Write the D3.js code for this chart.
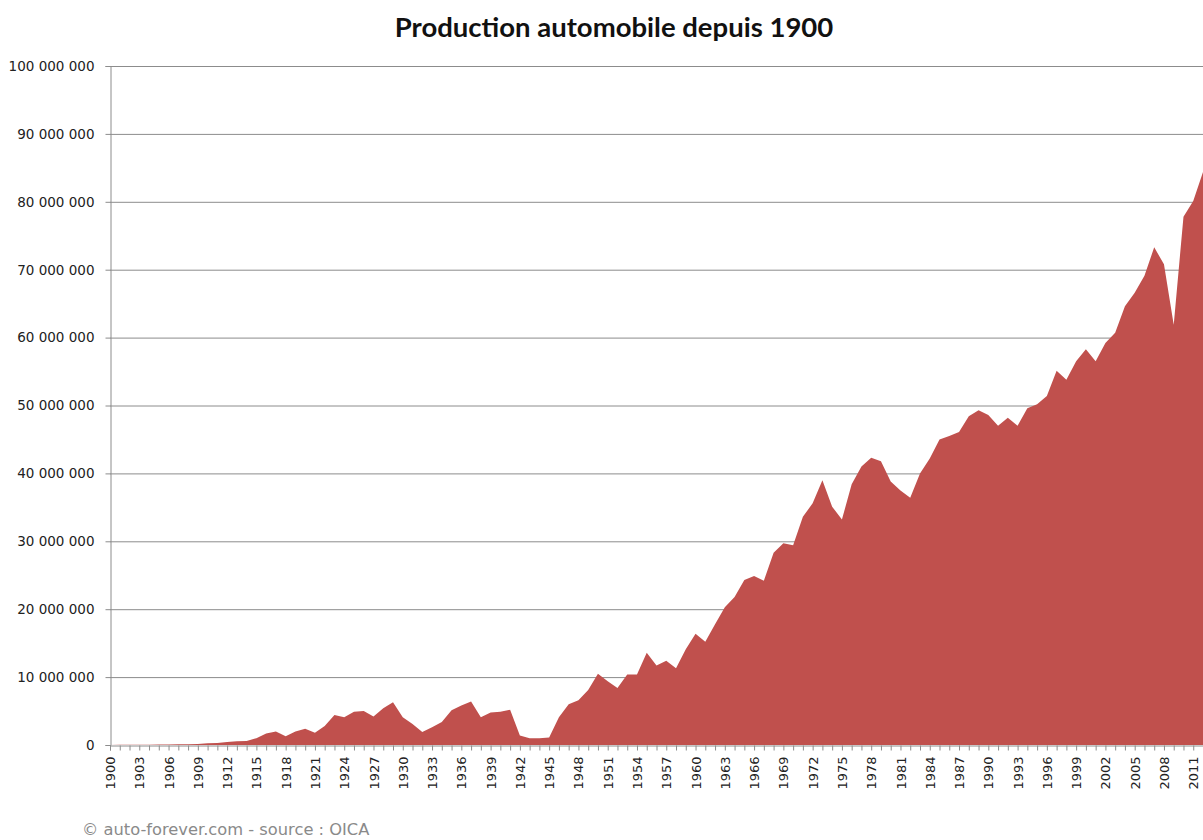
<!DOCTYPE html>
<html>
<head>
<meta charset="utf-8">
<script src="https://cdn.jsdelivr.net/npm/d3@7"></script>
<style>
  body { margin: 0; background: #fff; }
  svg { display: block; }
</style>
</head>
<body>
<script>
// production mondiale (millions de véhicules), 1900 -> 2012
const years = d3.range(1900, 2013);
const production = [
  0.01, 0.02, 0.03, 0.04, 0.05, 0.06, 0.08, 0.1, 0.12, 0.15,
  0.25, 0.3, 0.45, 0.55, 0.6, 1.0, 1.7, 2.0, 1.3, 2.0,
  2.4, 1.8, 2.8, 4.4, 4.1, 4.9, 5.0, 4.2, 5.4, 6.3,
  4.1, 3.1, 1.9, 2.6, 3.4, 5.1, 5.8, 6.4, 4.1, 4.8,
  4.9, 5.2, 1.4, 1.0, 1.0, 1.1, 4.1, 6.0, 6.6, 8.1,
  10.5, 9.4, 8.4, 10.4, 10.4, 13.6, 11.7, 12.4, 11.3, 14.1,
  16.4, 15.2, 17.8, 20.3, 21.8, 24.3, 24.9, 24.2, 28.3, 29.7,
  29.4, 33.6, 35.6, 39.0, 35.1, 33.2, 38.4, 41.0, 42.3, 41.8,
  38.8, 37.5, 36.4, 40.0, 42.2, 45.0, 45.5, 46.1, 48.4, 49.3,
  48.6, 47.0, 48.2, 47.0, 49.6, 50.2, 51.4, 55.1, 53.8, 56.5,
  58.3, 56.5, 59.2, 60.7, 64.6, 66.6, 69.1, 73.3, 70.8, 61.9,
  77.8, 80.1, 84.4
];
const yTicks = d3.range(0, 100000001, 10000000);

const width = 1203, height = 840;
const plotLeft = 110, plotRight = 1203, plotTop = 66, plotBottom = 745;

const svg = d3.select("body").append("svg")
  .attr("width", width)
  .attr("height", height);

const fr = d3.formatLocale({decimal: ",", thousands: " ", grouping: [3], currency: ["", ""]});
const fmt = fr.format(",");

const x = d3.scalePoint()
  .domain(years)
  .range([plotLeft, plotRight]);

const y = d3.scaleLinear()
  .domain([0, 100000000])
  .range([plotBottom, plotTop]);

// grid
svg.append("g")
  .selectAll("line")
  .data(yTicks.slice(1))
  .enter()
  .append("line")
  .attr("x1", plotLeft)
  .attr("x2", plotRight)
  .attr("y1", d => y(d) + 0.5)
  .attr("y2", d => y(d) + 0.5)
  .attr("stroke", "#8c8c8c")
  .attr("stroke-width", 1);

// area
const area = d3.area()
  .x((d, i) => x(years[i]))
  .y0(y(0))
  .y1(d => y(d * 1000000));

svg.append("path")
  .datum(production)
  .attr("d", area)
  .attr("fill", "#C0504D");

// y axis
const yAxis = svg.append("g")
  .attr("transform", `translate(${plotLeft + 0.5},0)`)
  .call(d3.axisLeft(y).tickValues(yTicks).tickFormat(fmt).tickSize(5).tickPadding(11));
yAxis.select(".domain").attr("stroke", "#8c8c8c");
yAxis.selectAll(".tick line").attr("stroke", "#8c8c8c");
yAxis.selectAll("text")
  .attr("font-family", "DejaVu Sans")
  .attr("font-size", 13.5)
  .attr("fill", "#222");

// x axis
const xAxis = svg.append("g")
  .attr("transform", `translate(0,${plotBottom + 0.5})`)
  .call(d3.axisBottom(x).tickSize(5).tickFormat((d, i) => i % 3 === 0 ? d : ""));
xAxis.select(".domain").attr("stroke", "#8c8c8c");
xAxis.selectAll(".tick line").attr("stroke", "#8c8c8c");
xAxis.selectAll("text")
  .attr("font-family", "DejaVu Sans")
  .attr("font-size", 13)
  .attr("fill", "#222")
  .attr("text-anchor", "end")
  .attr("transform", "rotate(-90)")
  .attr("x", -11)
  .attr("y", 0)
  .attr("dy", "0.35em");

// title
svg.append("text")
  .attr("x", 614)
  .attr("y", 37)
  .attr("text-anchor", "middle")
  .attr("font-family", "Lato")
  .attr("font-weight", "bold")
  .attr("font-size", 27.5)
  .attr("fill", "#111")
  .text("Production automobile depuis 1900");

// source
svg.append("text")
  .attr("x", 82)
  .attr("y", 835)
  .attr("font-family", "DejaVu Sans")
  .attr("font-size", 16.3)
  .attr("fill", "#8a8a8a")
  .text("© auto-forever.com  - source : OICA");
</script>
</body>
</html>
